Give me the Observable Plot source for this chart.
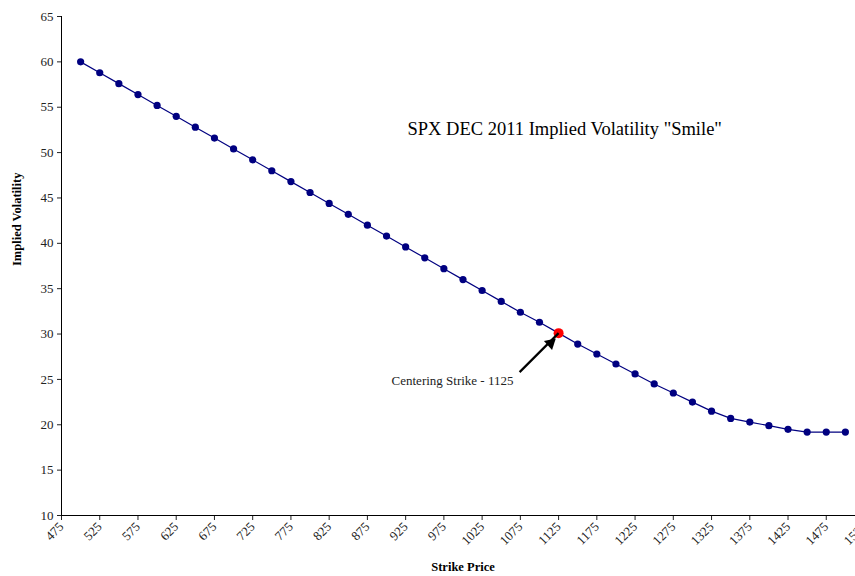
<!DOCTYPE html>
<html><head><meta charset="utf-8">
<script src="https://cdn.jsdelivr.net/npm/d3@7"></script>
<script src="https://cdn.jsdelivr.net/npm/@observablehq/plot@0.6"></script>
<style>body{margin:0;background:#fff;overflow:hidden}</style>
</head><body><div id="chart"></div>
<script>
const strikes = [500,525,550,575,600,625,650,675,700,725,750,775,800,825,850,875,900,925,950,975,1000,1025,1050,1075,1100,1125,1150,1175,1200,1225,1250,1275,1300,1325,1350,1375,1400,1425,1450,1475,1500];
const vols = [60.0,58.8,57.6,56.4,55.2,54.0,52.8,51.6,50.4,49.2,48.0,46.8,45.6,44.4,43.2,42.0,40.8,39.6,38.4,37.2,36.0,34.8,33.6,32.4,31.3,30.1,28.9,27.8,26.7,25.6,24.5,23.5,22.5,21.5,20.7,20.3,19.9,19.5,19.2,19.2,19.2];
const centerStrike = 1125;
const xTicks = d3.range(475, 1526, 50);
const yTicks = d3.range(10, 66, 5);
const titleText = 'SPX DEC 2011 Implied Volatility "Smile"';
const titlePos = {x: 1133, y: 52.6};
const noteText = "Centering Strike - 1125";
const arrowTail = {x: 1074, y: 25.8};
const notePos = {x: 1066, y: 24.8};

const data = strikes.map((s, i) => ({strike: s, vol: vols[i]}));
const center = data.filter(d => d.strike === centerStrike);

const chart = Plot.plot({
  width: 855, height: 576,
  marginLeft: 61, marginRight: -9, marginTop: 16, marginBottom: 61,
  style: {fontFamily: "Liberation Serif", fontSize: "12px", color: "#222", background: "#fff"},
  x: {domain: [475, 1525]},
  y: {domain: [10, 65]},
  marks: [
    Plot.axisY({ticks: yTicks, tickSize: 4, tickPadding: 4, label: null, fontSize: 13, tickFormat: d => String(d)}),
    Plot.axisX({ticks: xTicks, tickSize: 5, tickRotate: -45, tickPadding: 4, label: null, fontSize: 13, tickFormat: d => String(d)}),
    Plot.ruleX([475], {stroke: "#000"}),
    Plot.ruleY([10], {stroke: "#000"}),
    Plot.line(data, {x: "strike", y: "vol", stroke: "#000080", strokeWidth: 1.2}),
    Plot.dot(data, {x: "strike", y: "vol", r: 3.6, fill: "#000080", stroke: "none"}),
    Plot.dot(center, {x: "strike", y: "vol", r: 5, fill: "#ff0000", stroke: "none"}),
    Plot.link(center, {x1: () => arrowTail.x, y1: () => arrowTail.y, x2: "strike", y2: "vol", stroke: "#000", strokeWidth: 2.2, insetEnd: 16}),
    Plot.dot(center, {x: "strike", y: "vol", dx: -8, dy: 10, symbol: "triangle", rotate: 48, r: 4.5, fill: "#000", stroke: "none"}),
    Plot.text([noteText], {x: () => notePos.x, y: () => notePos.y, text: d => d, textAnchor: "end", fontSize: 13, fill: "#222"}),
    Plot.text([titleText], {x: () => titlePos.x, y: () => titlePos.y, text: d => d, fontSize: 18.5, fill: "#000"}),
    Plot.text(["Implied Volatility"], {frameAnchor: "left", text: d => d, rotate: -90, dx: -45, fontWeight: "bold", fontSize: 12.5, fill: "#000"}),
    Plot.text(["Strike Price"], {frameAnchor: "bottom", text: d => d, dy: 55, fontWeight: "bold", fontSize: 12.5, fill: "#000"})
  ]
});
document.getElementById("chart").appendChild(chart);
</script></body></html>
